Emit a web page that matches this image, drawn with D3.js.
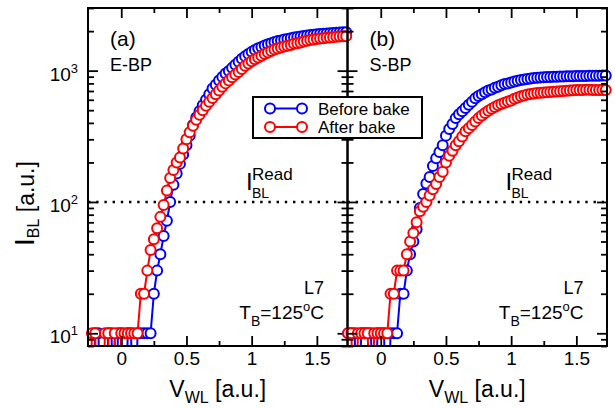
<!DOCTYPE html>
<html>
<head>
<meta charset="utf-8">
<script src="https://cdn.jsdelivr.net/npm/d3@7"></script>
<style>
  body { margin: 0; background: #fff; }
  svg text { font-family: "Liberation Sans", Arial, Helvetica, sans-serif; fill: #000; }
</style>
</head>
<body>
<svg id="chart"></svg>
<script>
// word-line voltage sweep (a.u.)
const vwl = [-0.25, -0.225, -0.2, -0.175, -0.15, -0.125, -0.1, -0.075, -0.05, -0.025,
  0, 0.025, 0.05, 0.075, 0.1, 0.125, 0.15, 0.175, 0.2, 0.225,
  0.25, 0.275, 0.3, 0.325, 0.35, 0.375, 0.4, 0.425, 0.45, 0.475,
  0.5, 0.525, 0.55, 0.575, 0.6, 0.625, 0.65, 0.675, 0.7, 0.725,
  0.75, 0.775, 0.8, 0.825, 0.85, 0.875, 0.9, 0.925, 0.95, 0.975,
  1, 1.025, 1.05, 1.075, 1.1, 1.125, 1.15, 1.175, 1.2, 1.225,
  1.25, 1.275, 1.3, 1.325, 1.35, 1.375, 1.4, 1.425, 1.45, 1.475,
  1.5, 1.525, 1.55, 1.575, 1.6, 1.625, 1.65, 1.675, 1.7, 1.725];

// I_BL (a.u.); 1 = below the axis floor
const ebpBefore = [1, 1, 10, 10, 1, 1, 10, 10, 1, 10,
  10, 1, 10, 10, 1, 10, 10, 10, 10, 10,
  20, 30, 40, 55, 72, 100, 135, 165, 195, 230,
  270, 320, 385, 440, 490, 545, 600, 660, 730, 780,
  840, 895, 950, 995, 1050, 1110, 1170, 1230, 1290, 1340,
  1390, 1435, 1480, 1515, 1555, 1590, 1620, 1650, 1680, 1700,
  1725, 1745, 1765, 1785, 1805, 1820, 1835, 1850, 1865, 1875,
  1890, 1900, 1910, 1920, 1930, 1938, 1945, 1952, 1958, 1965];
const ebpAfter = [1, 10, 10, 1, 1, 10, 10, 1, 10, 1,
  10, 10, 10, 10, 10, 10, 20, 20, 30, 43,
  52, 63, 77, 95, 122, 152, 175, 200, 218, 255,
  300, 340, 380, 422, 462, 500, 540, 580, 620, 660,
  705, 755, 800, 840, 890, 935, 975, 1030, 1090, 1135,
  1180, 1220, 1260, 1300, 1340, 1375, 1410, 1450, 1475, 1500,
  1530, 1550, 1570, 1600, 1620, 1640, 1665, 1690, 1710, 1730,
  1742, 1755, 1768, 1780, 1790, 1800, 1810, 1818, 1826, 1832];
const sbpBefore = [10, 10, 10, 1, 10, 10, 10, 10, 1, 10,
  10, 10, 1, 10, 10, 10, 20, 20, 30, 40,
  50, 62, 90, 115, 138, 155, 188, 215, 240, 270,
  320, 360, 392, 435, 465, 490, 520, 550, 580, 615,
  640, 660, 685, 705, 720, 740, 755, 775, 790, 800,
  812, 825, 838, 848, 856, 864, 872, 878, 883, 887,
  890, 893, 895, 897, 899, 901, 903, 905, 906, 908,
  909, 910, 911, 912, 913, 914, 915, 916, 917, 918];
const sbpAfter = [10, 10, 1, 10, 10, 10, 10, 1, 10, 10,
  10, 10, 10, 20, 20, 30, 30, 30, 40, 50,
  58, 70, 85, 92, 100, 112, 125, 137, 155, 170,
  200, 225, 245, 270, 290, 315, 345, 365, 385, 410,
  435, 455, 475, 495, 512, 528, 545, 557, 570, 582,
  592, 610, 625, 637, 648, 658, 665, 670, 675, 678,
  681, 684, 688, 692, 695, 698, 701, 704, 707, 709,
  711, 712, 713, 714, 714, 713, 712, 712, 711, 711];

const xTicks = [0, 0.5, 1, 1.5];
const xMinorTicks = [0.25, 0.75, 1.25];
const xTickLabels = ["0", "0.5", "1", "1.5"];
const yTicks = [10, 100, 1000];
const yTickExp = ["1", "2", "3"];
const panelLabels = ["(a)", "(b)"];
const cellNames = ["E-BP", "S-BP"];
const legendNames = ["Before bake", "After bake"];
const seriesColors = ["#0000ff", "#ff0000"];
const readLevel = 100;

const W = 615, H = 409;
const margin = { left: 88, top: 8 };
const panelW = 259.5, plotH = 338;

const svg = d3.select("#chart").attr("width", W).attr("height", H);

const x = d3.scaleLinear().domain([-0.255, 1.735]).range([0, panelW]);
const y = d3.scaleLog().domain([8, 3000]).range([plotH, 0]);
const yMinor = y.ticks().filter(v => !yTicks.includes(v));

const panels = [
  { label: panelLabels[0], cell: cellNames[0], series: [ebpBefore, ebpAfter] },
  { label: panelLabels[1], cell: cellNames[1], series: [sbpBefore, sbpAfter] }
];

const line = d3.line().x(d => x(d[0])).y(d => y(d[1]));

function tidy(sel) {
  sel.select(".domain").remove();
  sel.selectAll("line").attr("stroke", "#000").attr("stroke-width", 1.8);
}

panels.forEach((p, i) => {
  const g = svg.append("g")
    .attr("transform", `translate(${margin.left + i * panelW},${margin.top})`);

  g.append("clipPath").attr("id", "clip" + i)
    .append("rect").attr("x", -9).attr("y", 0)
    .attr("width", panelW + 18).attr("height", plotH);

  // read level
  g.append("line")
    .attr("x1", 0).attr("x2", panelW)
    .attr("y1", y(readLevel)).attr("y2", y(readLevel))
    .attr("stroke", "#000").attr("stroke-width", 2.4)
    .attr("stroke-dasharray", "2.4,5.8");

  const data = g.append("g").attr("clip-path", `url(#clip${i})`);
  p.series.forEach((vals, s) => {
    const pts = vwl.map((v, k) => [v, vals[k]]);
    data.append("path").datum(pts)
      .attr("d", line)
      .attr("fill", "none")
      .attr("stroke", seriesColors[s])
      .attr("stroke-width", 2);
    data.append("g").selectAll("circle")
      .data(pts).enter().append("circle")
      .attr("cx", d => x(d[0]))
      .attr("cy", d => y(d[1]))
      .attr("r", 5)
      .attr("fill", "#fff")
      .attr("stroke", seriesColors[s])
      .attr("stroke-width", 2);
  });

  // x axes
  g.append("g").attr("transform", `translate(0,${plotH})`)
    .call(d3.axisBottom(x).tickValues(xTicks).tickSize(-10).tickPadding(5.5)
      .tickFormat((d, k) => xTickLabels[k]))
    .call(tidy)
    .selectAll("text").attr("font-size", 19);
  g.append("g").attr("transform", `translate(0,${plotH})`)
    .call(d3.axisBottom(x).tickValues(xMinorTicks).tickSize(-5).tickFormat(""))
    .call(tidy);
  g.append("g")
    .call(d3.axisTop(x).tickValues(xTicks).tickSize(-10).tickFormat(""))
    .call(tidy);
  g.append("g")
    .call(d3.axisTop(x).tickValues(xMinorTicks).tickSize(-5).tickFormat(""))
    .call(tidy);

  // y axes
  g.append("g")
    .call(d3.axisLeft(y).tickValues(yTicks).tickSize(-10).tickFormat(""))
    .call(tidy);
  g.append("g")
    .call(d3.axisLeft(y).tickValues(yMinor).tickSize(-6).tickFormat(""))
    .call(tidy);
  g.append("g").attr("transform", `translate(${panelW},0)`)
    .call(d3.axisRight(y).tickValues(yTicks).tickSize(-10).tickFormat(""))
    .call(tidy);
  g.append("g").attr("transform", `translate(${panelW},0)`)
    .call(d3.axisRight(y).tickValues(yMinor).tickSize(-6).tickFormat(""))
    .call(tidy);

  g.append("rect")
    .attr("width", panelW).attr("height", plotH)
    .attr("fill", "none").attr("stroke", "#000").attr("stroke-width", 2);

  if (i === 0) {
    yTicks.forEach((v, k) => {
      const t = g.append("text")
        .attr("x", -10).attr("y", y(v) + 10)
        .attr("text-anchor", "end").attr("font-size", 19);
      t.append("tspan").text("10");
      t.append("tspan").attr("font-size", 13).attr("dy", -8).text(yTickExp[k]);
    });
  }

  // panel label and cell type
  g.append("text").attr("x", 22).attr("y", 38).attr("font-size", 21).text(p.label);
  g.append("text").attr("x", 22).attr("y", 63).attr("font-size", 18).text(p.cell);

  // I_BL^Read
  g.append("text").attr("x", 158).attr("y", 182).attr("font-size", 24).text("I");
  g.append("text").attr("x", 164).attr("y", 172).attr("font-size", 17).text("Read");
  g.append("text").attr("x", 164).attr("y", 190).attr("font-size", 14).text("BL");

  // L7 / T_B
  g.append("text").attr("x", panelW - 23.5).attr("y", 286)
    .attr("text-anchor", "end").attr("font-size", 18).text("L7");
  const tb = g.append("text").attr("x", panelW - 23.5).attr("y", 310.5)
    .attr("text-anchor", "end").attr("font-size", 19);
  tb.append("tspan").text("T");
  tb.append("tspan").attr("font-size", 14).attr("dy", 7).text("B");
  tb.append("tspan").attr("dy", -7).text("=125");
  tb.append("tspan").attr("font-size", 13).attr("dy", -8).text("o");
  tb.append("tspan").attr("dy", 8).text("C");

  // x title
  const xt = g.append("text").attr("x", panelW / 2).attr("y", 389)
    .attr("text-anchor", "middle").attr("font-size", 23);
  xt.append("tspan").text("V");
  xt.append("tspan").attr("font-size", 16).attr("dy", 6).text("WL");
  xt.append("tspan").attr("dy", -6).text(" [a.u.]");
});

// y title
const yt = svg.append("text")
  .attr("transform", "translate(34,246) rotate(-90)")
  .attr("font-size", 23);
yt.append("tspan").attr("font-size", 28).text("I");
yt.append("tspan").attr("font-size", 16).attr("dy", 5).text("BL");
yt.append("tspan").attr("dy", -5).text(" [a.u.]");

// legend
const lg = svg.append("g").attr("transform", "translate(253,97)");
lg.append("rect").attr("width", 169).attr("height", 41)
  .attr("fill", "#fff").attr("stroke", "#000").attr("stroke-width", 2);
legendNames.forEach((name, k) => {
  const row = lg.append("g").attr("transform", `translate(0,${11.5 + k * 18.5})`);
  row.append("line").attr("x1", 17).attr("x2", 49)
    .attr("stroke", seriesColors[k]).attr("stroke-width", 2);
  [17, 49].forEach(cx => row.append("circle").attr("cx", cx).attr("r", 5)
    .attr("fill", "#fff").attr("stroke", seriesColors[k]).attr("stroke-width", 2));
  row.append("text").attr("x", 65).attr("y", 6).attr("font-size", 17).text(name);
});
</script>
</body>
</html>
